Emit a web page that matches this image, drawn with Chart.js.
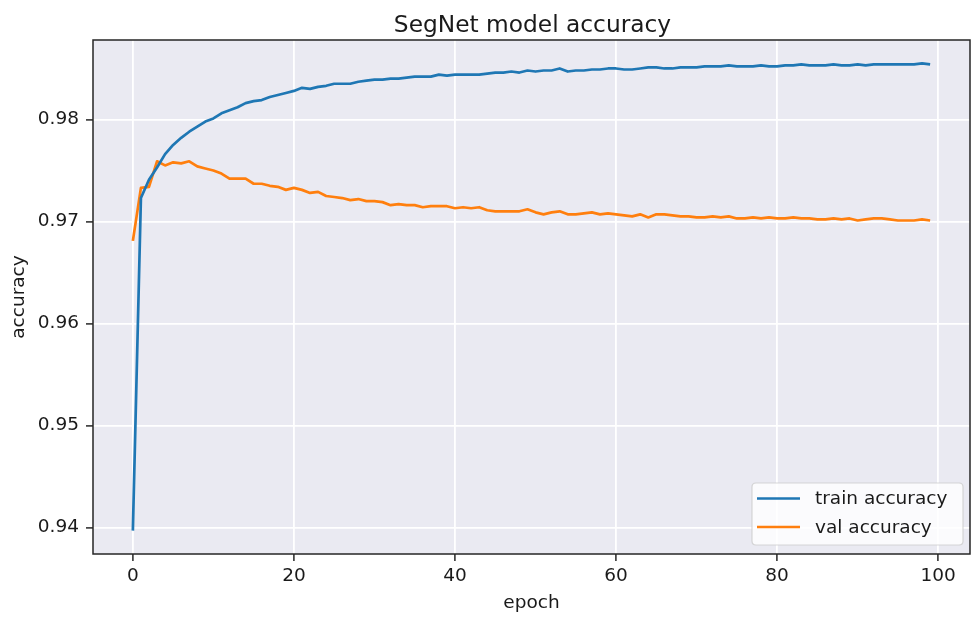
<!DOCTYPE html>
<html>
<head>
<meta charset="utf-8">
<script src="https://cdn.jsdelivr.net/npm/chart.js@4/dist/chart.umd.min.js"></script>
<style>
  html, body { margin: 0; padding: 0; background: #ffffff; }
  #wrap { width: 971px; height: 617px; }
</style>
</head>
<body>
<div id="wrap"><canvas id="c" width="971" height="617"></canvas></div>
<script>
const chartTitle = "SegNet model accuracy";
const xLabel = "epoch";
const yLabel = "accuracy";
const seriesNames = ["train accuracy", "val accuracy"];
const xTicks = [0, 20, 40, 60, 80, 100];
const yTicks = [0.94, 0.95, 0.96, 0.97, 0.98];

const epochs = [
  0,1,2,3,4,5,6,7,8,9,10,11,12,13,14,15,16,17,18,19,
  20,21,22,23,24,25,26,27,28,29,30,31,32,33,34,35,36,37,38,39,
  40,41,42,43,44,45,46,47,48,49,50,51,52,53,54,55,56,57,58,59,
  60,61,62,63,64,65,66,67,68,69,70,71,72,73,74,75,76,77,78,79,
  80,81,82,83,84,85,86,87,88,89,90,91,92,93,94,95,96,97,98,99
];

const trainAcc = [
  0.9397,0.9723,0.9741,0.9753,0.9766,0.9775,0.9782,0.9788,0.9793,0.9798,
  0.9801,0.9806,0.9809,0.9812,0.9816,0.9818,0.9819,0.9822,0.9824,0.9826,
  0.9828,0.9831,0.9830,0.9832,0.9833,0.9835,0.9835,0.9835,0.9837,0.9838,
  0.9839,0.9839,0.9840,0.9840,0.9841,0.9842,0.9842,0.9842,0.9844,0.9843,
  0.9844,0.9844,0.9844,0.9844,0.9845,0.9846,0.9846,0.9847,0.9846,0.9848,
  0.9847,0.9848,0.9848,0.9850,0.9847,0.9848,0.9848,0.9849,0.9849,0.9850,
  0.9850,0.9849,0.9849,0.9850,0.9851,0.9851,0.9850,0.9850,0.9851,0.9851,
  0.9851,0.9852,0.9852,0.9852,0.9853,0.9852,0.9852,0.9852,0.9853,0.9852,
  0.9852,0.9853,0.9853,0.9854,0.9853,0.9853,0.9853,0.9854,0.9853,0.9853,
  0.9854,0.9853,0.9854,0.9854,0.9854,0.9854,0.9854,0.9854,0.9855,0.9854
];

const valAcc = [
  0.9681,0.9733,0.9734,0.9759,0.9755,0.9758,0.9757,0.9759,0.9754,0.9752,
  0.9750,0.9747,0.9742,0.9742,0.9742,0.9737,0.9737,0.9735,0.9734,0.9731,
  0.9733,0.9731,0.9728,0.9729,0.9725,0.9724,0.9723,0.9721,0.9722,0.9720,
  0.9720,0.9719,0.9716,0.9717,0.9716,0.9716,0.9714,0.9715,0.9715,0.9715,
  0.9713,0.9714,0.9713,0.9714,0.9711,0.9710,0.9710,0.9710,0.9710,0.9712,
  0.9709,0.9707,0.9709,0.9710,0.9707,0.9707,0.9708,0.9709,0.9707,0.9708,
  0.9707,0.9706,0.9705,0.9707,0.9704,0.9707,0.9707,0.9706,0.9705,0.9705,
  0.9704,0.9704,0.9705,0.9704,0.9705,0.9703,0.9703,0.9704,0.9703,0.9704,
  0.9703,0.9703,0.9704,0.9703,0.9703,0.9702,0.9702,0.9703,0.9702,0.9703,
  0.9701,0.9702,0.9703,0.9703,0.9702,0.9701,0.9701,0.9701,0.9702,0.9701
];

const FONT = "'DejaVu Sans', 'Liberation Sans', sans-serif";
const SPINE = '#262626';

function toPoints(xs, ys) { return xs.map((x, i) => ({ x: x, y: ys[i] })); }

// matplotlib-like 5% margins
const xMinData = Math.min(...epochs), xMaxData = Math.max(...epochs);
const xPad = (xMaxData - xMinData) * 0.05;
const allY = trainAcc.concat(valAcc);
const yMinData = Math.min(...allY), yMaxData = Math.max(...allY);
const yPad = (yMaxData - yMinData) * 0.05;

const decorPlugin = {
  id: 'decor',
  beforeDraw(chart) {
    const { ctx, chartArea: a } = chart;
    ctx.save();
    ctx.fillStyle = '#ffffff';
    ctx.fillRect(0, 0, chart.width, chart.height);
    ctx.fillStyle = '#eaeaf2';
    ctx.fillRect(a.left, a.top, a.right - a.left, a.bottom - a.top);
    ctx.restore();
  },
  afterDraw(chart) {
    const { ctx, chartArea: a } = chart;
    ctx.save();
    // spines
    ctx.strokeStyle = SPINE;
    ctx.lineWidth = 1.5;
    ctx.strokeRect(a.left, a.top, a.right - a.left, a.bottom - a.top);
    // title
    ctx.fillStyle = '#1a1a1a';
    ctx.font = '23.3px ' + FONT;
    ctx.textAlign = 'center';
    ctx.textBaseline = 'alphabetic';
    ctx.fillText(chartTitle, (a.left + a.right) / 2 + 1, 31.5);
    // legend
    const bx = 752, by = 483, bw = 211, bh = 62, r = 4;
    ctx.beginPath();
    ctx.moveTo(bx + r, by);
    ctx.lineTo(bx + bw - r, by);
    ctx.quadraticCurveTo(bx + bw, by, bx + bw, by + r);
    ctx.lineTo(bx + bw, by + bh - r);
    ctx.quadraticCurveTo(bx + bw, by + bh, bx + bw - r, by + bh);
    ctx.lineTo(bx + r, by + bh);
    ctx.quadraticCurveTo(bx, by + bh, bx, by + bh - r);
    ctx.lineTo(bx, by + r);
    ctx.quadraticCurveTo(bx, by, bx + r, by);
    ctx.closePath();
    ctx.fillStyle = 'rgba(255,255,255,0.8)';
    ctx.fill();
    ctx.strokeStyle = 'rgba(204,204,204,0.8)';
    ctx.lineWidth = 1.2;
    ctx.stroke();
    ctx.font = '18.5px ' + FONT;
    ctx.textAlign = 'left';
    ctx.textBaseline = 'middle';
    chart.data.datasets.forEach((ds, i) => {
      const cy = 498.5 + i * 28.5;
      ctx.strokeStyle = ds.borderColor;
      ctx.lineWidth = 2.7;
      ctx.beginPath();
      ctx.moveTo(757, cy);
      ctx.lineTo(800, cy);
      ctx.stroke();
      ctx.fillStyle = '#1a1a1a';
      ctx.fillText(ds.label, 815, cy + 1);
    });
    ctx.restore();
  }
};

new Chart(document.getElementById('c'), {
  type: 'line',
  data: {
    datasets: [
      { label: seriesNames[0], data: toPoints(epochs, trainAcc), borderColor: '#1f77b4', backgroundColor: '#1f77b4',
        borderWidth: 2.7, pointRadius: 0, tension: 0, fill: false },
      { label: seriesNames[1], data: toPoints(epochs, valAcc), borderColor: '#ff7f0e', backgroundColor: '#ff7f0e',
        borderWidth: 2.7, pointRadius: 0, tension: 0, fill: false }
    ]
  },
  options: {
    responsive: false,
    animation: false,
    devicePixelRatio: 1,
    layout: { padding: { top: 40, right: 1, left: 0, bottom: 0 } },
    plugins: { legend: { display: false }, title: { display: false }, tooltip: { enabled: false } },
    elements: { line: { borderCapStyle: 'butt', borderJoinStyle: 'round' } },
    scales: {
      x: {
        type: 'linear',
        min: xMinData - xPad,
        max: xMaxData + xPad,
        afterBuildTicks(scale) { scale.ticks = xTicks.map(v => ({ value: v })); },
        afterFit(scale) { scale.height = 63; },
        grid: { color: '#ffffff', lineWidth: 1.8, drawTicks: true, tickLength: 7, tickColor: SPINE, tickWidth: 1.5 },
        border: { display: false },
        ticks: { color: '#1a1a1a', font: { family: FONT, size: 18.5 }, padding: 4, maxRotation: 0,
          callback: v => String(v) },
        title: { display: true, text: xLabel, color: '#1a1a1a', font: { family: FONT, size: 18.5 }, padding: { top: 0, bottom: 3 } }
      },
      y: {
        type: 'linear',
        min: yMinData - yPad,
        max: yMaxData + yPad,
        afterBuildTicks(scale) { scale.ticks = yTicks.map(v => ({ value: v })); },
        afterFit(scale) { scale.width = 93; },
        grid: { color: '#ffffff', lineWidth: 1.8, drawTicks: true, tickLength: 7, tickColor: SPINE, tickWidth: 1.5 },
        border: { display: false },
        ticks: { color: '#1a1a1a', font: { family: FONT, size: 18.5 }, padding: 7,
          callback: v => v.toFixed(2) },
        title: { display: true, text: yLabel, color: '#1a1a1a', font: { family: FONT, size: 18.5 }, padding: { top: 8, bottom: 0 } }
      }
    }
  },
  plugins: [decorPlugin]
});
</script>
</body>
</html>
